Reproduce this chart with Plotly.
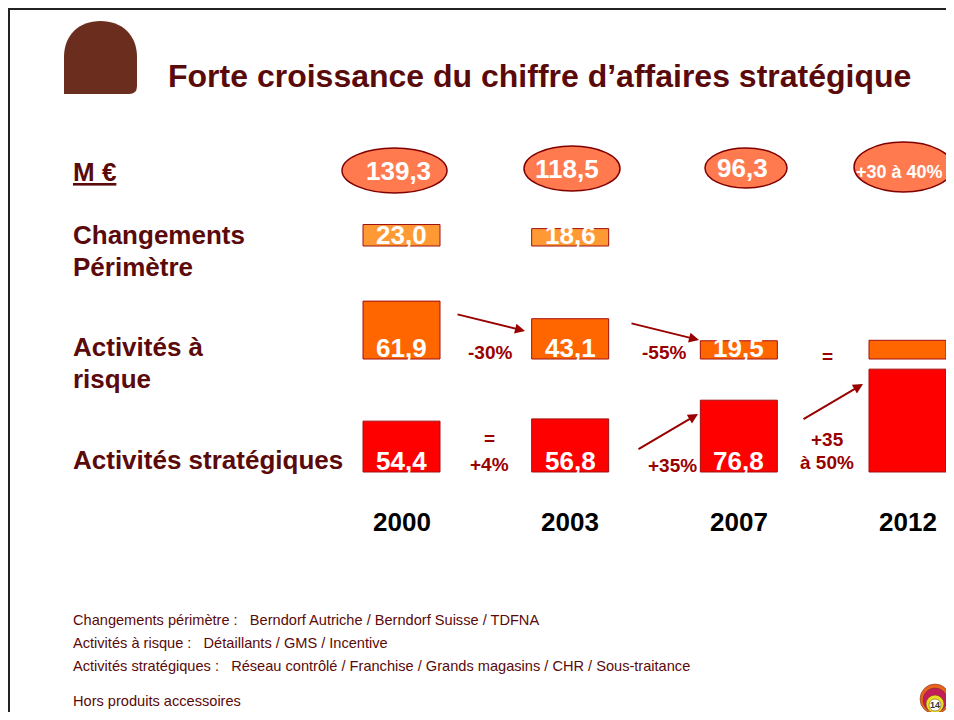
import plotly.graph_objects as go

# ---------------- data ----------------
years = ["2000", "2003", "2007", "2012"]
totaux = ["139,3", "118,5", "96,3", "+30 à 40%"]
perimetre = [23.0, 18.6, None, None]
risque = [61.9, 43.1, 19.5, 20.0]
strategique = [54.4, 56.8, 76.8, 110.0]
perimetre_lbl = ["23,0", "18,6", "", ""]
risque_lbl = ["61,9", "43,1", "19,5", ""]
strategique_lbl = ["54,4", "56,8", "76,8", ""]
var_risque = ["-30%", "-55%", "="]
var_strat = [["=", "+4%"], ["+35%"], ["+35", "à 50%"]]
row_labels = ["Changements", "Périmètre", "Activités à", "risque", "Activités stratégiques"]
notes = [
    "Changements périmètre :   Berndorf Autriche / Berndorf Suisse / TDFNA",
    "Activités à risque :   Détaillants / GMS / Incentive",
    "Activités stratégiques :   Réseau contrôlé / Franchise / Grands magasins / CHR / Sous-traitance",
    "Hors produits accessoires",
]
title = "Forte croissance du chiffre d’affaires stratégique"

# ---------------- layout helpers ----------------
OFF = 8                 # page body margin
FW, FH = 954 - 2 * OFF, 720 - 2 * OFF
FONT = "Liberation Sans, Arial, sans-serif"
MAROON = "#5A0A0A"
DARKRED = "#990000"

def px(x):
    return (x - OFF) / FW

def py(y):
    return 1 - (y - OFF) / FH

K = 0.935  # pixels per M€
STEP = 168.67
X0 = 401.5
Y_BASE = 472
base_strat = 0
base_risk = (Y_BASE - 359) / K
base_perim = (Y_BASE - 246) / K
bar_w = 77 / STEP
idx = list(range(len(years)))

fig = go.Figure()

def add_bars(vals, base, fill):
    fig.add_trace(go.Bar(
        x=years, y=vals, base=[base] * len(years), width=bar_w,
        marker=dict(color=fill, line=dict(color="#A01010", width=1)),
        showlegend=False, hoverinfo="skip"))

add_bars(perimetre, base_perim, "#FF9933")
add_bars(risque, base_risk, "#FF6600")
add_bars(strategique, base_strat, "#FF0000")

ann = []
shapes = []

def text(x, y, t, size, color, xanchor="center", bold=True, xref="paper", yref="paper", **kw):
    ann.append(dict(x=x, y=y, xref=xref, yref=yref, text=("<b>%s</b>" % t) if bold else t,
                    showarrow=False, xanchor=xanchor, yanchor=kw.pop("yanchor", "middle"),
                    font=dict(family=FONT, size=size, color=color), **kw))

# value labels inside bars
for lbls, base in [(perimetre_lbl, base_perim), (risque_lbl, base_risk), (strategique_lbl, base_strat)]:
    for i, t in zip(idx, lbls):
        if t:
            text(i, base, t, 26, "white", xref="x", yref="y", yanchor="bottom", yshift=-6)

# ellipses with totals
ell = [(342, 148, 447, 193), (524, 146, 620, 191), (705, 148, 787, 188), (854, 142, 953, 192)]
for (x0, y0, x1, y1) in ell:
    shapes.append(dict(type="circle", xref="paper", yref="paper",
                       x0=px(x0), x1=px(x1), y0=py(y1), y1=py(y0),
                       fillcolor="#FF7B4F", line=dict(color="#800000", width=1.5), layer="below"))
tot_pos = [(398, 171, 26), (567, 169, 26), (742, 168, 26), (899, 172, 18)]
for t, (x, y, s) in zip(totaux, tot_pos):
    text(px(x), py(y), t, s, "white")

# year labels
for i in idx:
    text(i, py(522), years[i], 26, "black", xref="x")

# row labels
text(px(71), py(172), "<u>M €</u>", 26, MAROON, xanchor="left")
for t, y in zip(row_labels, [235, 267, 347, 379, 460]):
    text(px(71), py(y), t, 26, MAROON, xanchor="left")

# variation labels
for t, (x, y) in zip(var_risque, [(490, 352), (664, 352), (827, 356)]):
    text(px(x), py(y), t, 19, DARKRED)
strat_pos = [[(490, 438), (490, 464)], [(672, 465)], [(827, 439), (827, 462)]]
for grp, pos in zip(var_strat, strat_pos):
    for t, (x, y) in zip(grp, pos):
        text(px(x), py(y), t, 19, DARKRED)

# arrows
arrows = [((456, 314), (525, 331)), ((630, 323), (699, 340)),
          ((637, 450), (698, 414)), ((802, 420), (863, 384))]
for (tx, ty), (hx, hy) in arrows:
    ann.append(dict(x=px(hx), y=py(hy), xref="paper", yref="paper", text="",
                    showarrow=True, ax=tx - hx, ay=ty - hy, arrowhead=2, arrowsize=1,
                    arrowwidth=2, arrowcolor=DARKRED))

# title and logo
text(px(166), py(76), title, 32, MAROON, xanchor="left")

def P(x, y):
    return "%f,%f" % (px(x), py(y))

arch = ("M " + P(64, 94) + " L " + P(64, 57) + " C " + P(64, 35) + " " + P(79, 21) + " " + P(100.5, 21)
        + " C " + P(122, 21) + " " + P(137, 35) + " " + P(137, 57) + " L " + P(137, 86)
        + " Q " + P(137, 94) + " " + P(129, 94) + " Z")
shapes.append(dict(type="path", xref="paper", yref="paper", path=arch,
                   fillcolor="#6B2E1E", line=dict(width=0)))

# footnotes
for t, y in zip(notes, [620, 643, 666, 701]):
    text(px(71), py(y), t, 14.6, MAROON, xanchor="left", bold=False)

# slide border
shapes.append(dict(type="line", xref="paper", yref="paper", x0=px(7), x1=1, y0=py(8.5), y1=py(8.5),
                   line=dict(color="#222222", width=3)))
shapes.append(dict(type="line", xref="paper", yref="paper", x0=px(8.5), x1=px(8.5), y0=py(7), y1=0,
                   line=dict(color="#222222", width=3)))

# small badge bottom right
for (x0, y0, x1, y1, c) in [(920, 684, 950, 714, "#E8641E"), (923, 688, 947, 712, "#C41E5A"),
                            (926, 695, 944, 713, "#E8E020"), (929, 699, 941, 711, "#FFFFFF")]:
    shapes.append(dict(type="circle", xref="paper", yref="paper", x0=px(x0), x1=px(x1),
                       y0=py(y1), y1=py(y0), fillcolor=c, line=dict(color="#6B2E1E", width=0.5)))
text(px(935), py(705), "14", 9, "#333333")

fig.update_layout(
    width=FW, height=FH, margin=dict(l=0, r=0, t=0, b=0),
    paper_bgcolor="white", plot_bgcolor="white",
    barmode="overlay", showlegend=False,
    xaxis=dict(type="category", range=[-(X0 - OFF) / STEP, (954 - OFF - X0) / STEP], visible=False,
               domain=[0, 1], fixedrange=True),
    yaxis=dict(range=[(Y_BASE - (720 - OFF)) / K, (Y_BASE - OFF) / K], visible=False,
               domain=[0, 1], fixedrange=True),
    annotations=ann, shapes=shapes,
)

fig.write_html("out.html")
